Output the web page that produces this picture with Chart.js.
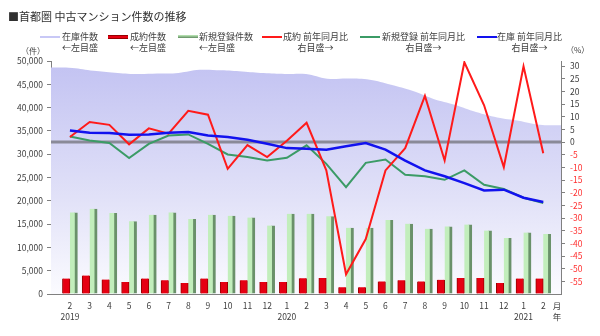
<!DOCTYPE html>
<html>
<head>
<meta charset="UTF-8">
<title>首都圏 中古マンション件数の推移</title>
<script src="https://cdn.jsdelivr.net/npm/chart.js@4.4.1/dist/chart.umd.min.js"></script>
<style>
body{margin:0;background:#fff;font-family:"Noto Sans CJK JP",sans-serif;color:#404040;}
#wrap{position:relative;width:600px;height:336px;overflow:hidden;}
#wrap canvas{position:absolute;left:0;top:0;}
.t{position:absolute;white-space:nowrap;font-size:9px;line-height:11px;color:#404040;}
.c{text-align:center;}
.sw{position:absolute;width:20px;}
</style>
</head>
<body>
<div id="wrap">
	<canvas id="myChart" width="600" height="336"></canvas>

	<div class="t" style="left:8px;top:9px;font-size:11px;line-height:14px;color:#303030;">■首都圏 中古マンション件数の推移</div>

	<div class="sw" style="left:40px;top:36px;height:2px;background:#c8c8f6;"></div>
	<div class="t" style="left:62px;top:31px;">在庫件数<br>←左目盛</div>

	<div class="sw" style="left:108px;top:35px;height:2px;background:#e60012;border-top:1px solid #900;border-bottom:1px solid #900;"></div>
	<div class="t" style="left:130px;top:31px;">成約件数<br>←左目盛</div>

	<div class="sw" style="left:178px;top:35px;height:3px;background:linear-gradient(#c2eebc,#5f8a5f);"></div>
	<div class="t" style="left:199px;top:31px;">新規登録件数<br>←左目盛</div>

	<div class="sw" style="left:262px;top:36px;height:2px;background:#ff1a1a;"></div>
	<div class="t c" style="left:283px;top:31px;">成約 前年同月比<br>右目盛→</div>

	<div class="sw" style="left:360px;top:36px;height:2px;background:#3b9b66;"></div>
	<div class="t c" style="left:382px;top:31px;">新規登録 前年同月比<br>右目盛→</div>

	<div class="sw" style="left:477px;top:36px;height:2px;background:#1212ee;"></div>
	<div class="t c" style="left:497px;top:31px;">在庫 前年同月比<br>右目盛→</div>

	<div class="t" style="left:21px;top:45px;font-size:8px;">（件）</div>
	<div class="t" style="left:566px;top:44px;font-size:8px;">（%）</div>

	<div class="t c" style="left:552px;top:300px;width:10px;font-size:8.5px;">月<br>年</div>
</div>

<script type="text/javascript">

var months = ["2","3","4","5","6","7","8","9","10","11","12","1","2","3","4","5","6","7","8","9","10","11","12","1","2"];
var years = ["2019","","","","","","","","","","","2020","","","","","","","","","","","","2021",""];

// 件 (left axis)
var stock = [48600, 48500, 47900, 47500, 47200, 47300, 47450, 48100, 48000, 47750, 47400, 47200, 47200,
	46200, 46250, 46000, 44900, 43600, 41850, 40600, 39050, 37900, 37200, 36300, 36200];
var contracts = [3300, 3950, 3100, 2550, 3300, 2950, 2350, 3300, 2550, 2950, 2550, 2550, 3400,
	3450, 1450, 1450, 2700, 2950, 2700, 3050, 3450, 3450, 2350, 3300, 3300];
var listings = [17500, 18300, 17400, 15600, 17000, 17500, 16100, 17000, 16800, 16400, 14700, 17200, 17200,
	16700, 14200, 14200, 15900, 15100, 14000, 14500, 14900, 13600, 12000, 13200, 12900];

// % (right axis)
var contractsYoY = [2.0, 7.9, 6.8, -0.9, 5.4, 3.3, 12.3, 10.8, -10.6, -1.2, -5.9, 0.5, 7.6,
	-11.2, -52.2, -38.3, -11.2, -2.4, 18.2, -7.3, 31.5, 14.5, -9.9, 29.9, -4.4];
var listingsYoY = [2.2, 0.6, -0.4, -6.3, -0.7, 2.6, 3.0, -0.7, -4.9, -5.9, -7.3, -6.2, -1.3,
	-8.6, -17.8, -8.2, -6.9, -12.9, -13.5, -14.9, -11.2, -16.9, -18.5, -22.0, -24.1];
var stockYoY = [4.6, 3.7, 3.6, 2.9, 3.0, 3.7, 4.0, 2.6, 2.0, 0.9, -0.7, -2.4, -2.6,
	-3.0, -1.7, -0.4, -3.0, -7.3, -11.2, -13.5, -16.2, -19.1, -18.8, -22.0, -23.7];

var rightTicks = [-55, -50, -45, -40, -35, -30, -25, -20, -15, -10, -5, 0, 5, 10, 15, 20, 25, 30];

Chart.defaults.font.family = "'Noto Sans CJK JP', 'DejaVu Sans', sans-serif";
Chart.defaults.font.size = 8.5;
Chart.defaults.color = "#404040";

var pts = function(arr){
	return arr.map(function(v, i){ return {x: i, y: v}; });
};

// gray 0% line, drawn just above the stock area
var zeroLine = {
	id: "zeroLine",
	afterDatasetDraw: function(chart, args){
		if(args.index !== 0) return;
		var a = chart.chartArea;
		var y = chart.scales.y2.getPixelForValue(0);
		var ctx = chart.ctx;
		ctx.save();
		ctx.strokeStyle = "#8a8a98";
		ctx.lineWidth = 3;
		ctx.beginPath();
		ctx.moveTo(a.left, y);
		ctx.lineTo(a.right, y);
		ctx.stroke();
		ctx.restore();
	}
};

var areaFill = function(c){
	var a = c.chart.chartArea;
	if(!a) return "#d0d0f4";
	var g = c.chart.ctx.createLinearGradient(0, a.top, 0, a.bottom);
	g.addColorStop(0, "#c2c2f2");
	g.addColorStop(0.6, "#e2e2f8");
	g.addColorStop(1, "#fbfbff");
	return g;
};

var ctx = document.getElementById("myChart");
var myChart = new Chart(ctx, {
	data: {
		datasets: [
			{
				type: "line", label: "在庫件数", data: pts(stock),
				xAxisID: "x2", yAxisID: "y",
				fill: "start", backgroundColor: areaFill, borderWidth: 0,
				pointRadius: 0, tension: 0.4, order: 10
			},
			{
				type: "bar", label: "成約件数", data: pts(contracts),
				xAxisID: "x", yAxisID: "y",
				backgroundColor: "#e60012", borderColor: "#9a0000",
				borderWidth: {left: 1, right: 1, top: 0, bottom: 0},
				barThickness: 7.5, order: 5
			},
			{
				type: "bar", label: "新規登録件数", data: pts(listings),
				xAxisID: "x", yAxisID: "y",
				backgroundColor: "#c2eebc", borderColor: "#6a916a",
				borderWidth: {left: 0, right: 3, top: 0, bottom: 0},
				barThickness: 7.5, order: 5
			},
			{
				type: "line", label: "成約 前年同月比", data: pts(contractsYoY),
				xAxisID: "x", yAxisID: "y2",
				borderColor: "#ff1a1a", borderWidth: 2, pointRadius: 0, fill: false, order: 2
			},
			{
				type: "line", label: "新規登録 前年同月比", data: pts(listingsYoY),
				xAxisID: "x", yAxisID: "y2",
				borderColor: "#3b9b66", borderWidth: 2, pointRadius: 0, fill: false, order: 3
			},
			{
				type: "line", label: "在庫 前年同月比", data: pts(stockYoY),
				xAxisID: "x", yAxisID: "y2",
				borderColor: "#1212ee", borderWidth: 2.5, pointRadius: 0, fill: false, order: 1
			}
		]
	},
	options: {
		responsive: false,
		animation: false,
		layout: {padding: {top: 61, left: 0, right: 0, bottom: 0}},
		plugins: {
			legend: {display: false},
			tooltip: {enabled: false}
		},
		scales: {
			x: {
				type: "linear", position: "bottom", min: -0.96, max: 24.9, offset: false,
				afterBuildTicks: function(s){
					s.ticks = months.map(function(m, i){ return {value: i}; });
				},
				afterFit: function(s){ s.height = 42; },
				ticks: {
					autoSkip: false, maxRotation: 0, padding: 6,
					font: {size: 8.5, lineHeight: 1.3},
					callback: function(v, i){
						return years[i] ? [months[i], years[i]] : months[i];
					}
				},
				grid: {display: false, drawTicks: false, offset: false},
				border: {color: "#808080"}
			},
			x2: {type: "linear", min: 0, max: 24, offset: false, display: false},
			y: {
				position: "left", min: 0, max: 50000,
				afterFit: function(s){ s.width = 51; },
				ticks: {
					stepSize: 5000, padding: 4,
					callback: function(v){ return v.toLocaleString("en-US"); }
				},
				grid: {drawOnChartArea: false, tickLength: 4, color: "#808080"},
				border: {color: "#808080"}
			},
			y2: {
				position: "right", min: -60, max: 32,
				afterBuildTicks: function(s){
					s.ticks = rightTicks.map(function(v){ return {value: v}; });
				},
				afterFit: function(s){ s.width = 39; },
				ticks: {
					padding: 5,
					color: function(c){ return c.tick.value < 0 ? "#ff3030" : "#404040"; }
				},
				grid: {drawOnChartArea: false, tickLength: 4, color: "#808080"},
				border: {color: "#808080"}
			}
		}
	},
	plugins: [zeroLine]
});

</script>
</body>
</html>
